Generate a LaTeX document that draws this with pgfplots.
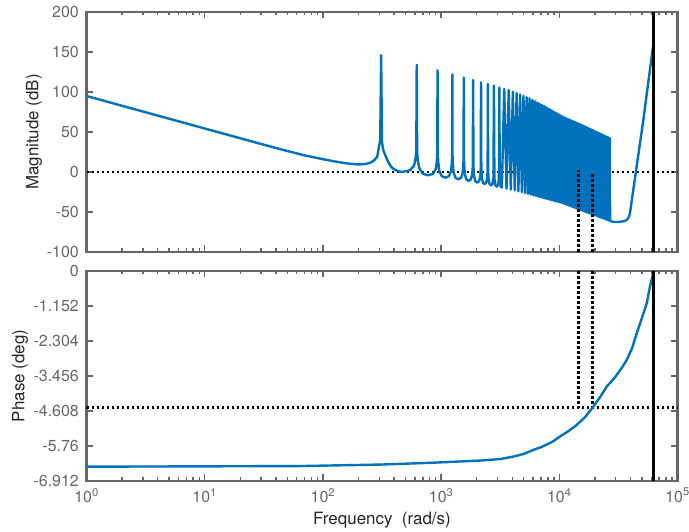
\documentclass[border=0pt]{standalone}
\usepackage{fontspec}
\setmainfont{TeX Gyre Heros}
\usepackage{pgfplots}
\pgfplotsset{compat=1.18}
\definecolor{mblue}{RGB}{0,114,189}
\definecolor{axgray}{RGB}{102,102,102}
\definecolor{labgray}{RGB}{38,38,38}
\pgfplotsset{
  bodecommon/.style={
    scale only axis, width=591bp, anchor=south west,
    xmin=1, xmax=100000,
    xtick={1,10,100,1000,10000,100000},
    tick align=inside, tick pos=both,
    xticklabel pos=lower, yticklabel pos=left,
    axis line style={axgray, line width=2.1bp},
    every tick/.style={axgray, line width=1.5bp},
    major tick length=6.5bp, minor tick length=3.5bp,
    ticklabel style={font=\fontsize{16}{19}\selectfont, text=axgray},
    yticklabel style={inner sep=0pt, xshift=-7.5bp},
    xticklabel style={inner sep=0pt, yshift=-7bp},
    label style={font=\fontsize{17}{20}\selectfont, text=labgray},
    /pgf/number format/assume math mode=true,
  },
  blueline/.style={mblue, line width=2.4bp, line join=round, no marks},
  dotline/.style={black, line width=2.6bp, dash pattern=on 2.6bp off 2.4bp, no marks},
}
\begin{document}
\begin{tikzpicture}
\path[use as bounding box] (0bp,0bp) rectangle (689bp,532bp);
% ---------------- Magnitude ----------------
\begin{semilogxaxis}[bodecommon, at={(86.5bp,280bp)}, height=240bp,
  ymin=-100, ymax=200, ytick={-100,-50,0,50,100,150,200},
  xticklabels={},
  ylabel={Magnitude (dB)},
  ylabel style={at={(axis description cs:-0.0888,0.5)}, anchor=center}]
\addplot[dotline] coordinates {(1,0) (100000,0)};
\addplot[draw=none, fill=mblue] coordinates {
(5909,90.3) (6220,88.5) (6842,85.2) (7775,80.7) (8708,76.6) (9952,71.7)
(11196,67.8) (12440,64.8) (13995,61.5) (15550,58.5) (17105,55.7) (18660,53.1)
(20215,50.6) (21770,48.4) (23325,46.3) (24880,44.4) (26746,42.2) (26746,-60.9)
(26591,-60.8) (25036,-59.4) (23481,-57.8) (21926,-56.2) (20371,-54.4) (18816,-52.5)
(17261,-50.5) (15706,-48.2) (14151,-45.7) (12596,-42.9) (11041,-39.7) (9486,-36.9)
(7931,-33.9) (6998,-31.7) (6376,-30.1) (6065,-29.3)};
\addplot[blueline] coordinates {
(1,95) (3.16,74.7) (10,54.4) (31.6,34.1) (50.1,26.2) (70.8,20.6) (100,16.0)
(125.9,13.2) (158.5,10.8) (199.5,9.4) (229,10.0) (251,11.6) (269,14) (288,19)
(295,28) (305.5,40) (311,146) (316,38) (323,28) (335,22) (348,16) (362,11)
(380,6) (410,2.5) (440,0.8) (466,0)
(544,2) (591,8) (610,18) (617,28) (622,134) (627,25.8) (634,15.8) (653,4.8) (700,-2.2) (777,-4.2)
(855,-2.2) (902,3.8) (921,13.8) (928,23.8) (933,127) (938,22.9) (945,12.9) (964,1.9) (1011,-5.1) (1089,-7.1)
(1166,-5.1) (1213,0.9) (1232,10.9) (1239,20.9) (1244,122) (1249,20.9) (1256,10.9) (1275,-0.1) (1322,-7.1) (1400,-9.1)
(1477,-7.1) (1524,-1.1) (1543,8.9) (1550,18.9) (1555,118) (1560,18.9) (1567,8.9) (1586,-2.1) (1633,-9.1) (1711,-11.1)
(1788,-9.1) (1835,-3.1) (1854,6.9) (1866,115) (1878,6.7) (1897,-4.3) (1944,-11.3) (2022,-13.3)
(2099,-11.3) (2146,-5.3) (2165,4.7) (2177,112) (2189,4.8) (2208,-6.2) (2255,-13.2) (2333,-15.2)
(2410,-13.2) (2457,-7.2) (2476,2.8) (2488,110) (2500,3.2) (2519,-7.8) (2566,-14.8) (2644,-16.8)
(2721,-14.8) (2774,-6) (2799,108) (2824,-7.5) (2877,-16.3) (2955,-18.3)
(3032,-16.3) (3085,-8) (3110,105.5) (3135,-9.5) (3188,-17.6) (3266,-19.6)
(3421,104) (3577,-20.8) (3732,102.5) (3888,-21.9) (4043,100.4) (4199,-23.0)
(4354,98.6) (4510,-24.2) (4665,96.9) (4821,-25.3) (4976,95.2) (5132,-26.4)
(5287,93.6) (5443,-27.4) (5598,92.1) (5754,-28.4) (5909,90.3) (6065,-29.3)
(6220,88.5) (6376,-30.1) (6531,86.8) (6687,-30.9) (6842,85.2) (6998,-31.7)
(7153,83.6) (7309,-32.5) (7464,82.2) (7620,-33.2) (7775,80.7) (7931,-33.9)
(8086,79.3) (8242,-34.5) (8397,78.0) (8553,-35.2) (8708,76.6) (8864,-35.8)
(9019,75.3) (9175,-36.3) (9330,74.1) (9486,-36.9) (9641,72.9) (9797,-37.5)
(9952,71.7) (10108,-38.0) (10263,70.6) (10419,-38.5) (10574,69.5) (10730,-39.0)
(10885,68.6) (11041,-39.7) (11196,67.8) (11352,-40.4) (11507,67.0) (11663,-41.0)
(11818,66.2) (11974,-41.7) (12129,65.5) (12285,-42.3) (12440,64.8) (12596,-42.9)
(12751,64.1) (12907,-43.5) (13062,63.4) (13218,-44.0) (13373,62.8) (13529,-44.6)
(13684,62.1) (13840,-45.1) (13995,61.5) (14151,-45.7) (14306,60.9) (14462,-46.2)
(14617,60.3) (14773,-46.7) (14928,59.7) (15084,-47.2) (15239,59.1) (15395,-47.7)
(15550,58.5) (15706,-48.2) (15861,58.0) (16017,-48.7) (16172,57.4) (16328,-49.1)
(16483,56.8) (16639,-49.6) (16794,56.2) (16950,-50.0) (17105,55.7) (17261,-50.5)
(17416,55.1) (17572,-50.9) (17727,54.6) (17883,-51.3) (18038,54.1) (18194,-51.7)
(18349,53.6) (18505,-52.1) (18660,53.1) (18816,-52.5) (18971,52.6) (19127,-52.9)
(19282,52.1) (19438,-53.3) (19593,51.6) (19749,-53.7) (19904,51.1) (20060,-54.1)
(20215,50.6) (20371,-54.4) (20526,50.2) (20682,-54.8) (20837,49.7) (20993,-55.2)
(21148,49.3) (21304,-55.5) (21459,48.8) (21615,-55.9) (21770,48.4) (21926,-56.2)
(22081,48.0) (22237,-56.5) (22392,47.6) (22548,-56.9) (22703,47.1) (22859,-57.2)
(23014,46.7) (23170,-57.5) (23325,46.3) (23481,-57.8) (23636,45.9) (23792,-58.2)
(23947,45.5) (24103,-58.5) (24258,45.1) (24414,-58.8) (24569,44.8) (24725,-59.1)
(24880,44.4) (25036,-59.4) (25191,44.0) (25347,-59.7) (25502,43.6) (25658,-59.9)
(25813,43.3) (25969,-60.2) (26124,42.9) (26280,-60.5) (26435,42.5) (26591,-60.8)
(26746,42.2) (26900,-61) (28700,-62.5) (31550,-62.5) (35500,-61.5) (37150,-60) (38500,-57)
(39600,-52) (40900,-37) (51400,65) (62832,163)};
\addplot[dotline] coordinates {(14600,-100) (14600,2)};
\addplot[dotline] coordinates {(19000,-100) (19000,-1)};
\addplot[black, line width=2.5bp, no marks] coordinates {(62832,-100) (62832,200)};
\end{semilogxaxis}
% ---------------- Phase ----------------
\begin{semilogxaxis}[bodecommon, at={(86.5bp,51bp)}, height=210bp,
  ymin=-6.912, ymax=0,
  ytick={-6.912,-5.76,-4.608,-3.456,-2.304,-1.152,0},
  yticklabels={-6.912,-5.76,-4.608,-3.456,-2.304,-1.152,0},
  xticklabels={10\textsuperscript{0},10\textsuperscript{1},10\textsuperscript{2},10\textsuperscript{3},10\textsuperscript{4},10\textsuperscript{5}},
  ylabel={Phase (deg)},
  ylabel style={at={(axis description cs:-0.1125,0.5)}, anchor=center},
  xlabel={Frequency\ \ (rad/s)},
  xlabel style={at={(axis description cs:0.5,0)}, anchor=center, yshift=-39bp}]
\addplot[dotline] coordinates {(1,-4.5) (100000,-4.5)};
\addplot[dotline] coordinates {(14600,0) (14600,-4.5)};
\addplot[dotline] coordinates {(19000,0) (19000,-4.5)};
\addplot[blueline] coordinates {
(1,-6.44) (10,-6.43) (64.6,-6.42) (316,-6.37) (851,-6.31) (2138,-6.24)
(3162,-6.19) (4074,-6.11) (5012,-6.02) (6026,-5.89) (7079,-5.79) (7943,-5.70)
(8913,-5.60) (10000,-5.46) (11749,-5.29) (14000,-5.07) (16596,-4.80) (19364,-4.47)
(22387,-4.12) (25119,-3.81) (26303,-3.72) (28184,-3.60) (30620,-3.42) (33884,-3.18)
(37154,-2.93) (41210,-2.55) (45186,-2.05) (50119,-1.53) (54954,-1.06) (58210,-0.55) (62832,0)};
\addplot[black, line width=2.5bp, no marks] coordinates {(62832,-6.912) (62832,0)};
\end{semilogxaxis}
\end{tikzpicture}
\end{document}
